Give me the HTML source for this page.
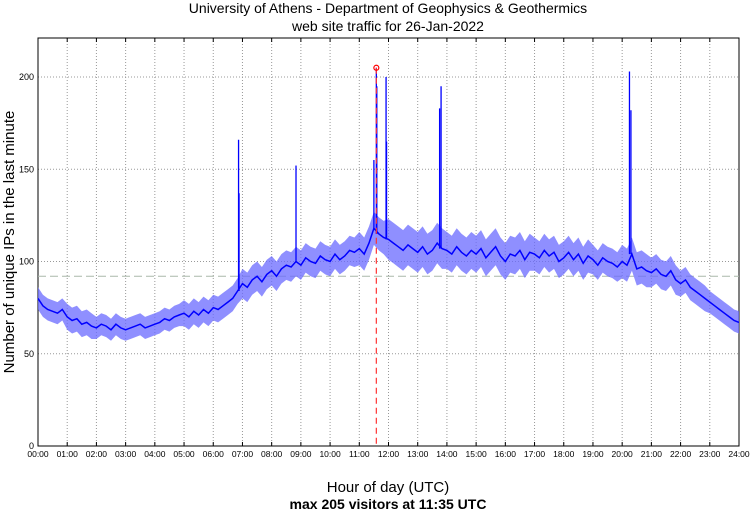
<!DOCTYPE html>
<html><head><meta charset="utf-8"><style>
body{margin:0;background:#fff;font-family:"Liberation Sans",sans-serif}
</style></head><body>
<svg id="chart" width="750" height="511" xmlns="http://www.w3.org/2000/svg" font-family="Liberation Sans, sans-serif">
<rect width="750" height="511" fill="#fff"/>
<text x="388" y="13" text-anchor="middle" font-size="14">University of Athens - Department of Geophysics &amp; Geothermics</text>
<text x="388" y="31" text-anchor="middle" font-size="14">web site traffic for 26-Jan-2022</text>
<g id="grid"></g><g id="axes"></g><g id="series"></g>
<text transform="translate(14,242) rotate(-90)" text-anchor="middle" font-size="15">Number of unique IPs in the last minute</text>
<text x="388" y="492" text-anchor="middle" font-size="15">Hour of day (UTC)</text>
<text x="388" y="509" text-anchor="middle" font-size="14" font-weight="bold">max 205 visitors at 11:35 UTC</text>
</svg>
<script>
const baseline=[80,76,74,73,72,74, 70,68,69,66,67,65, 64,66,65,63,66,64, 63,64,65,66,64,65,
66,67,69,68,70,71, 72,70,73,71,74,72, 75,74,76,78,80,84, 88,86,90,92,89,93,
95,92,96,98,97,100, 98,102,100,99,103,101, 100,104,101,103,106,105, 107,104,110,118,115,113,
112,110,108,106,109,107, 105,108,104,106,110,107, 106,104,108,105,103,106, 104,107,102,105,108,103,
100,104,103,106,101,105, 104,102,106,103,105,100, 102,105,101,104,99,103, 101,98,102,100,99,97,
100,98,104,96,97,95, 94,96,93,92,95,90, 88,90,86,84,82,80, 78,76,74,72,70,68, 67];
const hourlySpread=[6,7,6,6,6,7,7,8,8,8,8,9,11,11,10,10,10,9,9,8,9,8,7,6];
const spikeMinutes=[412,413,530,690,695,696,715,716,825,828,1215,1218];
const spikeValues=[166,137,152,155,205,195,200,165,183,195,203,182];
const yTicks=[0,50,100,150,200];
const meanValue=92, maxMinute=695, maxValue=205;
const NS="http://www.w3.org/2000/svg";
const L=38,R=739,T=38,B=446;
const xs=m=>L+(R-L)*m/1440;
const ys=v=>B-(B-77)*v/200;
function mk(tag,attrs,parent){const e=document.createElementNS(NS,tag);for(const k in attrs)e.setAttribute(k,attrs[k]);parent.appendChild(e);return e;}
const grid=document.getElementById('grid'),axes=document.getElementById('axes'),ser=document.getElementById('series');
for(const v of yTicks){
 if(v>0){const g=mk('line',{x1:L,x2:R,y1:ys(v),y2:ys(v),stroke:'#999','stroke-dasharray':'1,2'},grid);
 
 }
 const t=mk('text',{x:L-4,y:ys(v)+3,'text-anchor':'end','font-size':9},axes);t.textContent=v;
 
 
}
for(let h=0;h<=24;h++){
 const x=xs(h*60);
 if(h>0&&h<24){const g=mk('line',{x1:x,x2:x,y1:T,y2:B,stroke:'#999','stroke-dasharray':'1,2'},grid);
 
 }
 mk('line',{x1:x,x2:x,y1:B,y2:B-4,stroke:'#000'},axes);mk('line',{x1:x,x2:x,y1:T,y2:T+4,stroke:'#000'},axes);
 const t=mk('text',{x:x,y:B+11,'text-anchor':'middle','font-size':8.5},axes);t.textContent=String(h).padStart(2,'0')+':00';
 
 
}
const fr=mk('rect',{x:L,y:T,width:R-L,height:B-T,fill:'none',stroke:'#000'},axes);


const ml=mk('line',{x1:L,x2:R,y1:ys(meanValue),y2:ys(meanValue),stroke:'#aab8aa','stroke-dasharray':'8,4'},ser);


// noise envelope
const sp=i=>hourlySpread[Math.min(23,Math.floor(i/6))];
const up=baseline.map((v,i)=>xs(i*10).toFixed(1)+','+ys(v+sp(i)).toFixed(1));
const dn=baseline.map((v,i)=>xs(i*10).toFixed(1)+','+ys(v-sp(i)).toFixed(1)).reverse();
const band=mk('polygon',{points:up.concat(dn).join(' '),fill:'#6a6aff','fill-opacity':0.75,stroke:'none'},ser);


let pts=baseline.map((v,i)=>xs(i*10).toFixed(1)+','+ys(v).toFixed(1)).join(' ');
const pl=mk('polyline',{points:pts,fill:'none',stroke:'#00f','stroke-width':1.5},ser);


spikeMinutes.forEach((m,i)=>{
 const b=baseline[Math.min(baseline.length-1,Math.round(m/10))];
 const s=mk('line',{x1:xs(m),x2:xs(m),y1:ys(b),y2:ys(spikeValues[i]),stroke:'#00f','stroke-width':1.3},ser);
 
 
});
const vl=mk('line',{x1:xs(maxMinute),x2:xs(maxMinute),y1:ys(maxValue),y2:B,stroke:'#f33','stroke-dasharray':'6,4','stroke-width':1.2},ser);


const c=mk('circle',{cx:xs(maxMinute),cy:ys(maxValue),r:2.5,fill:'none',stroke:'#f00','stroke-width':1.2},ser);


</script>
</body></html>
